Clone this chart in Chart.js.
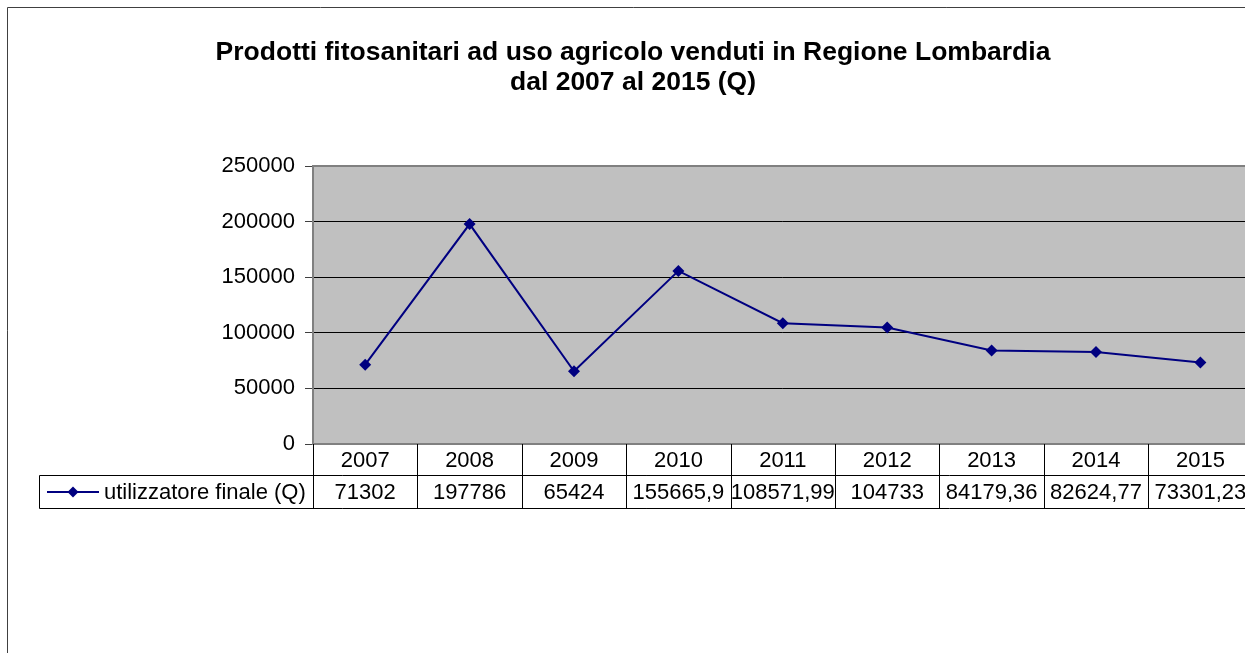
<!DOCTYPE html>
<html>
<head>
<meta charset="utf-8">
<script src="https://cdn.jsdelivr.net/npm/chart.js@4.4.0/dist/chart.umd.min.js"></script>
<style>
  html, body { margin: 0; padding: 0; background: #fff; overflow: hidden; }
  #wrap { position: relative; width: 1245px; height: 653px; overflow: hidden; }
  canvas { position: absolute; left: 0; top: 0; }
</style>
</head>
<body>
<div id="wrap"><canvas id="chart" width="1260" height="653"></canvas></div>
<script>
// data
const years = ['2007', '2008', '2009', '2010', '2011', '2012', '2013', '2014', '2015'];
const values = [71302, 197786, 65424, 155665.9, 108571.99, 104733, 84179.36, 82624.77, 73301.23];
const valueLabels = ['71302', '197786', '65424', '155665,9', '108571,99', '104733', '84179,36', '82624,77', '73301,23'];
const seriesName = 'utilizzatore finale (Q)';
const titleLines = ['Prodotti fitosanitari ad uso agricolo venduti in Regione Lombardia', 'dal 2007 al 2015 (Q)'];
const yMin = 0, yMax = 250000, yStep = 50000;

const NAVY = '#000080';
const FONT = '"Liberation Sans", Arial, sans-serif';

// excel-ish frame, plot fill, data table under the axis
const excelBits = {
  id: 'excelBits',
  beforeDraw(chart) {
    const c = chart.ctx, a = chart.chartArea;
    c.save();
    c.fillStyle = '#fff';
    c.fillRect(0, 0, chart.width, chart.height);
    // outer chart border
    c.strokeStyle = '#404040';
    c.lineWidth = 1;
    c.beginPath();
    c.moveTo(7.5, chart.height);
    c.lineTo(7.5, 7.5);
    c.lineTo(chart.width, 7.5);
    c.stroke();
    c.fillStyle = '#C0C0C0';
    c.fillRect(a.left, a.top, a.right - a.left, a.bottom - a.top);
    c.restore();
  },
  afterDraw(chart) {
    const c = chart.ctx, a = chart.chartArea;
    const xs = chart.scales.x;
    const bw = (a.right - a.left) / years.length;
    c.save();

    // plot border
    c.strokeStyle = '#808080';
    c.lineWidth = 2;
    c.beginPath();
    c.moveTo(a.right + 1, a.top);
    c.lineTo(a.left, a.top);
    c.lineTo(a.left, a.bottom);
    c.lineTo(a.right + 1, a.bottom);
    c.stroke();

    // title (excel stretches it a bit)
    c.fillStyle = '#000';
    c.font = 'bold 25px ' + FONT;
    c.textAlign = 'center';
    c.textBaseline = 'alphabetic';
    [[titleLines[0], 60], [titleLines[1], 90]].forEach(([t, y]) => {
      c.save();
      c.translate(633, y);
      c.scale(1.06, 1);
      c.fillText(t, 0, 0);
      c.restore();
    });

    // data table
    const r1 = a.bottom, r2 = 475.5, r3 = 508.5, legL = 39.5;
    c.strokeStyle = '#000';
    c.lineWidth = 1;
    c.beginPath();
    for (let i = 0; i <= years.length; i++) {
      const x = Math.round(a.left + i * bw) + 0.5;
      c.moveTo(x, r1);
      c.lineTo(x, r3);
    }
    c.moveTo(legL, r2); c.lineTo(a.right, r2);
    c.moveTo(legL, r3); c.lineTo(a.right, r3);
    c.moveTo(legL, r2); c.lineTo(legL, r3);
    c.stroke();

    c.font = '22px ' + FONT;
    c.textAlign = 'center';
    c.textBaseline = 'middle';
    years.forEach((y, i) => {
      const x = xs.getPixelForValue(i);
      c.fillText(y, x, (r1 + r2) / 2 + 1);
      c.fillText(valueLabels[i], x, (r2 + r3) / 2 + 1);
    });

    // legend key
    const ky = (r2 + r3) / 2;
    c.strokeStyle = NAVY;
    c.lineWidth = 2;
    c.beginPath();
    c.moveTo(47, ky); c.lineTo(99, ky);
    c.stroke();
    c.fillStyle = NAVY;
    c.beginPath();
    c.moveTo(73, ky - 5.5); c.lineTo(78.5, ky); c.lineTo(73, ky + 5.5); c.lineTo(67.5, ky);
    c.closePath();
    c.fill();
    c.fillStyle = '#000';
    c.textAlign = 'left';
    c.fillText(seriesName, 104, ky + 1);

    c.restore();
  }
};

new Chart(document.getElementById('chart'), {
  type: 'line',
  data: {
    labels: years,
    datasets: [{
      label: seriesName,
      data: values,
      borderColor: NAVY,
      borderWidth: 2,
      backgroundColor: NAVY,
      pointStyle: 'rectRot',
      pointRadius: 6,
      pointBackgroundColor: NAVY,
      pointBorderColor: NAVY,
      pointBorderWidth: 0,
      tension: 0
    }]
  },
  options: {
    responsive: false,
    animation: false,
    layout: { padding: { top: 166, left: 0, right: 7.4, bottom: 209 } },
    plugins: {
      legend: { display: false },
      title: { display: false },
      tooltip: { enabled: false }
    },
    scales: {
      x: {
        type: 'category',
        display: false,
        offset: true
      },
      y: {
        min: yMin,
        max: yMax,
        afterFit(scale) { scale.width = 313; },
        ticks: {
          stepSize: yStep,
          color: '#000',
          padding: 10,
          font: { family: FONT, size: 22 },
          callback: v => String(v)
        },
        grid: {
          color: '#000',
          lineWidth: 1,
          tickLength: 8,
          tickColor: '#404040'
        },
        border: { display: false }
      }
    }
  },
  plugins: [excelBits]
});
</script>
</body>
</html>
